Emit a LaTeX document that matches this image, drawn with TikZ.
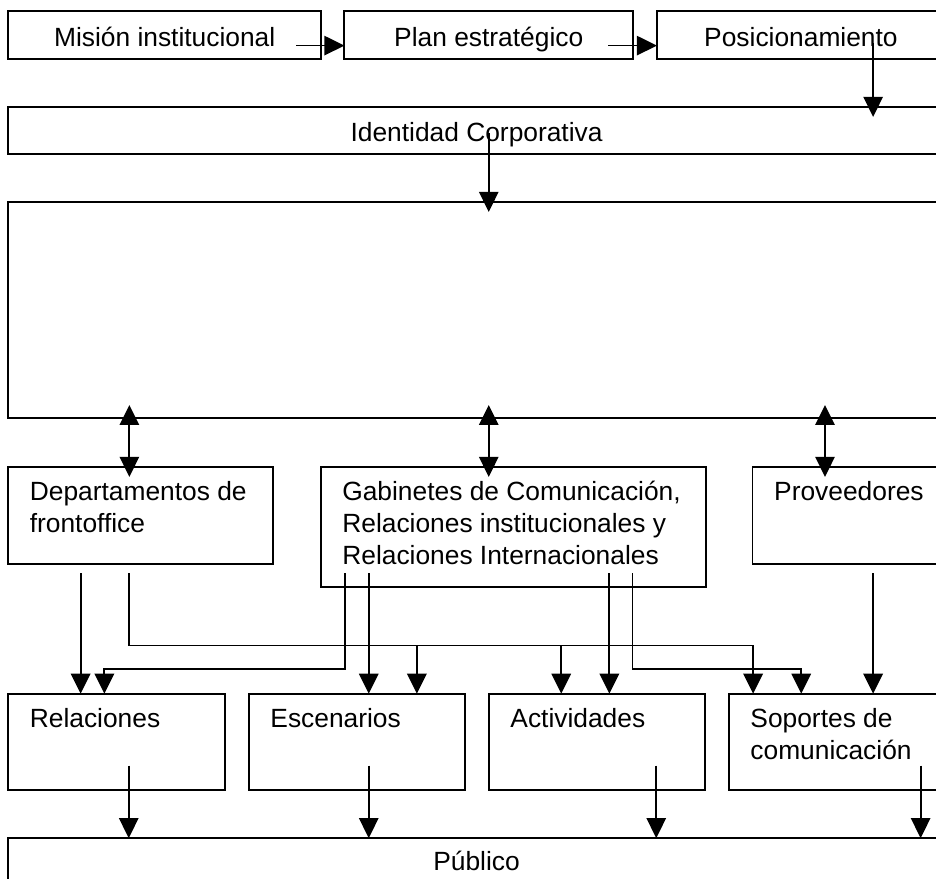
\documentclass[tikz,border=0pt]{standalone}
\usepackage{fontspec}
\setmainfont{Liberation Sans}
\usetikzlibrary{arrows.meta}

\newcommand{\boxlines}[1]{\begin{tabular}[t]{@{}l@{}}#1\end{tabular}}

\tikzset{
    box/.style 2 args={draw, line width=0.8pt, anchor=north west, inner sep=0pt, outer sep=0pt,
        minimum width=#1, minimum height=#2},
    lefttext/.style={anchor=base west, inner sep=0pt, xshift=3.4mm, yshift=-5.4mm,
        font=\fontsize{12pt}{14.6pt}\selectfont},
    midtext/.style={anchor=base, inner sep=0pt, yshift=-5.5mm, font=\fontsize{12pt}{14.6pt}\selectfont},
    arr/.style={line width=0.8pt, -{Triangle[length=3.2mm,width=3.1mm]}},
    arrboth/.style={line width=0.8pt, {Triangle[length=3.2mm,width=3.1mm]}-{Triangle[length=3.2mm,width=3.1mm]}},
}

\begin{document}
\begin{tikzpicture}
    \useasboundingbox (0mm,0mm) rectangle (149.76mm,-140.64mm);

    % boxes
    \node[box={50.1mm}{7.7mm}, label={[midtext, yshift=-0.2mm]north:{Misión institucional}}] (mision) at (1.3mm,-1.8mm) {};
    \node[box={46.2mm}{7.7mm}, label={[midtext, yshift=-0.2mm]north:{Plan estratégico}}] (plan) at (55.1mm,-1.8mm) {};
    \node[box={46.1mm}{7.7mm}, label={[midtext, yshift=-0.2mm]north:{Posicionamiento}}] (posic) at (105.1mm,-1.8mm) {};
    \node[box={149.9mm}{7.6mm}, label={[midtext]north:{Identidad Corporativa}}] (ident) at (1.3mm,-17.1mm) {};
    \node[box={149.9mm}{34.6mm}] (centro) at (1.3mm,-32.3mm) {};

    \node[box={42.4mm}{15.5mm}, label={[lefttext]north west:{\boxlines{Departamentos de\\frontoffice}}}] (dep) at (1.3mm,-74.7mm) {};
    \node[box={61.6mm}{19.2mm}, label={[lefttext]north west:{\boxlines{Gabinetes de Comunicación,\\Relaciones institucionales y\\Relaciones Internacionales}}}] (gab) at (51.3mm,-74.7mm) {};
    \node[box={30.8mm}{15.5mm}, label={[lefttext]north west:{Proveedores}}] (prov) at (120.4mm,-74.7mm) {};

    \node[box={34.7mm}{15.4mm}, label={[lefttext]north west:{Relaciones}}] (rel) at (1.3mm,-111mm) {};
    \node[box={34.6mm}{15.4mm}, label={[lefttext]north west:{Escenarios}}] (esc) at (39.8mm,-111mm) {};
    \node[box={34.6mm}{15.4mm}, label={[lefttext]north west:{Actividades}}] (act) at (78.2mm,-111mm) {};
    \node[box={34.6mm}{15.4mm}, label={[lefttext]north west:{\boxlines{Soportes de\\comunicación}}}] (sop) at (116.6mm,-111mm) {};

    \node[box={149.9mm}{10mm}, label={[midtext, yshift=0.3mm]north:{Público}}] (pub) at (1.3mm,-134.1mm) {};

    % top part
    \coordinate (m0) at (47.4mm,-7.3mm);
    \coordinate (p0) at (97.3mm,-7.3mm);
    \coordinate (q0) at (139.7mm,-6.9mm);
    \coordinate (i0) at (78.2mm,-21.3mm);
    \draw[arr] (m0) -- (m0 -| plan.west);
    \draw[arr] (p0) -- (p0 -| posic.west);
    \draw[arr] (q0) -- ([yshift=-1.6mm]q0 |- ident.north);
    \draw[arr] (i0) -- ([yshift=-1.6mm]i0 |- centro.north);

    \foreach \n/\dx in {dep/19.4mm, gab/26.9mm, prov/11.6mm}
        \draw[arrboth] ([xshift=\dx,yshift=-1.6mm]\n.north west) -- ([xshift=\dx,yshift=2.1mm]\n.north west |- centro.south);

    % middle to bottom row
    \coordinate (d1) at (12.9mm,-91.7mm);
    \coordinate (d2) at (20.6mm,-91.7mm);
    \coordinate (g1) at (55.2mm,-91.7mm);
    \coordinate (g2) at (59.0mm,-91.7mm);
    \coordinate (g3) at (97.5mm,-91.7mm);
    \coordinate (g4) at (101.2mm,-91.7mm);
    \coordinate (v1) at (139.7mm,-91.7mm);
    \coordinate (bus) at (20.6mm,-103.3mm);
    \coordinate (b1) at (66.7mm,-103.3mm);
    \coordinate (b2) at (89.8mm,-103.3mm);
    \coordinate (gl) at (16.7mm,-107.1mm);
    \coordinate (gr) at (128.2mm,-107.1mm);

    \draw[arr] (d1) -- (d1 |- rel.north);
    \draw[arr] (d2) -- (bus) -| ([xshift=3.9mm]sop.north west);
    \draw[arr] (b1) -- (b1 |- esc.north);
    \draw[arr] (b2) -- (b2 |- act.north);
    \draw[arr] (g1) |- (gl) -- (gl |- rel.north);
    \draw[arr] (g2) -- (g2 |- esc.north);
    \draw[arr] (g3) -- (g3 |- act.north);
    \draw[arr] (g4) |- (gr) -- (gr |- sop.north);
    \draw[arr] (v1) -- (v1 |- sop.north);

    % to the public
    \foreach \n/\dx in {rel/19.3mm, esc/19.2mm, act/26.8mm, sop/30.7mm}
        \draw[arr] ([xshift=\dx,yshift=-11.5mm]\n.north west) -- ([xshift=\dx]\n.north west |- pub.north);
\end{tikzpicture}
\end{document}
